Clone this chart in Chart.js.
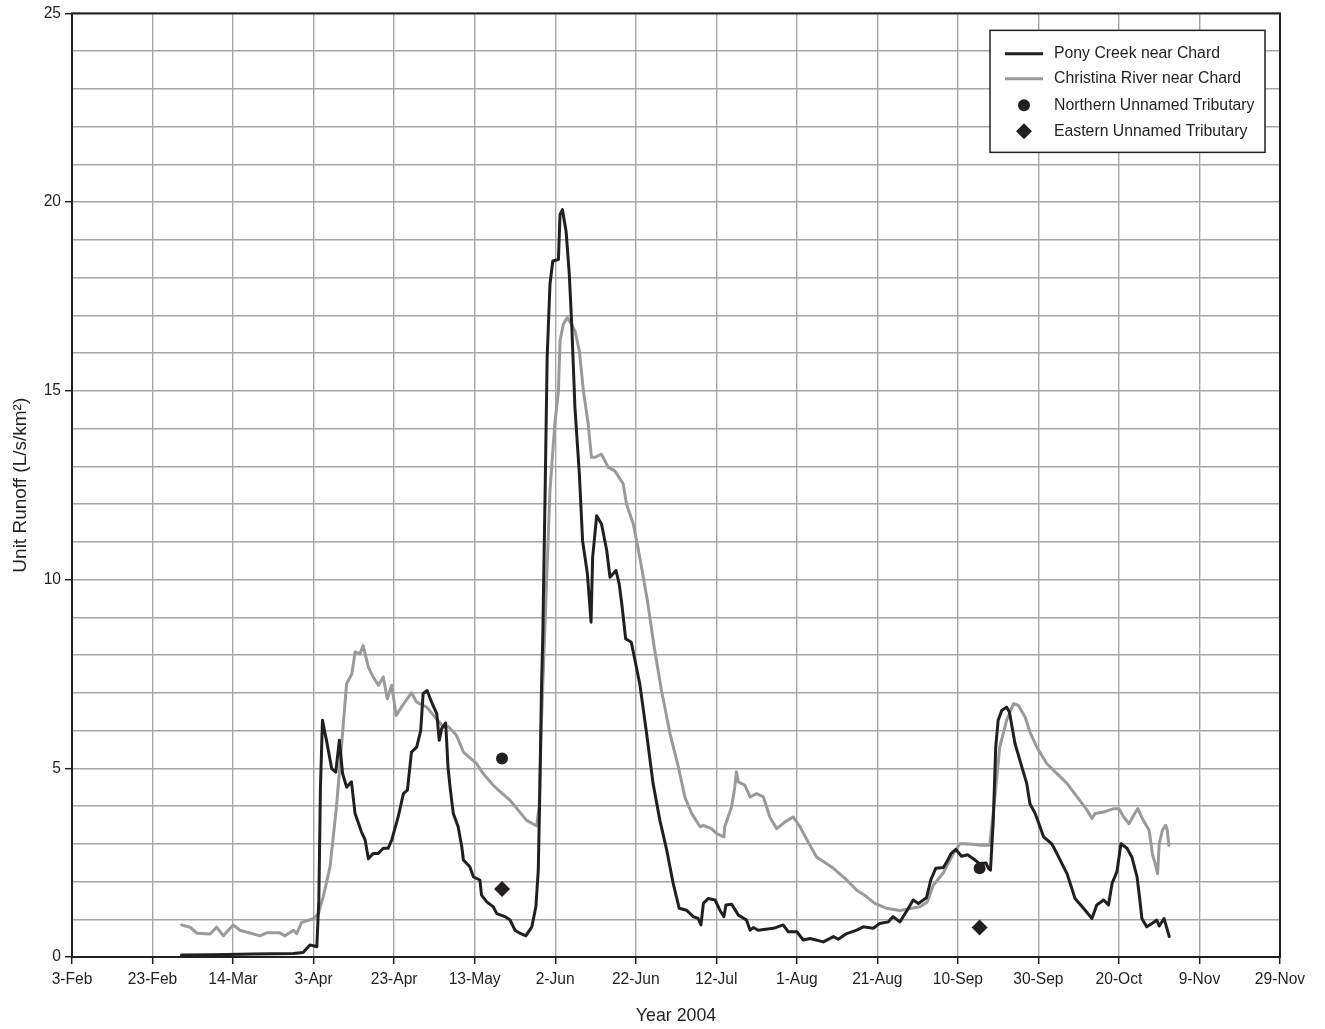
<!DOCTYPE html>
<html>
<head>
<meta charset="utf-8">
<title>Unit Runoff 2004</title>
<script src="https://cdn.jsdelivr.net/npm/chart.js@4/dist/chart.umd.min.js"></script>
<style>
  html, body { margin: 0; padding: 0; background: #ffffff; }
  #wrap { width: 1325px; height: 1029px; position: relative; }
</style>
</head>
<body>
<div id="wrap"><canvas id="runoff"></canvas></div>
<script>
// Days counted from 3 February 2004; unit runoff in L/s/km².
const seriesLabels = [
  'Pony Creek near Chard',
  'Christina River near Chard',
  'Northern Unnamed Tributary',
  'Eastern Unnamed Tributary'
];

const ponyDays = [
  27.2, 35, 45, 55, 57.4, 58.5, 59.1, 60.8, 61.3, 61.7, 62.2, 63.2, 64.5, 65.5, 66.4, 67.2,
  68.2, 69.4, 70.3, 71.9, 72.8, 73.6, 74.8, 76, 77.3, 78.5, 79.4, 81, 82.3, 83.3, 84.3, 85.6,
  86.6, 87.2, 88.2, 89.3, 90.6, 91.2, 91.8, 92.8, 93.4, 94.0, 94.7, 95.9, 96.8, 97.2, 98.8, 99.7,
  100.5, 101.3, 101.7, 103, 104.6, 105.5, 107.5, 108.8, 110, 111.2, 112.7, 114.2, 115.2, 115.8,
  116.2, 116.6, 116.9, 117.5, 118, 118.7, 119.4, 120.8, 121.2, 121.8, 122.7, 123.5, 124.1, 124.9,
  126, 126.8, 128, 128.9, 129.3, 130.3, 131.5, 132.8, 133.6, 135.1, 135.9, 136.6, 137.5, 138.9,
  141, 142.7, 144.3, 146, 147.7, 149.3, 150.8, 152.6, 154.3, 155.5, 156.2, 156.8, 158, 159.7,
  160.9, 161.9, 162.4, 163.8, 165.5, 167.5, 168.4, 169.2, 170.4, 174.2, 176.6, 177.9, 180, 181.6,
  183.3, 186.6, 189.1, 190.3, 192.4, 194.9, 196.5, 199, 200.6, 202.7, 203.9, 205.6, 207.3, 208.9,
  210.2, 212.2, 213.3, 214.5, 216.4, 217.4, 218.3, 219.5, 220.9, 222.4, 224, 225.3, 227, 227.6,
  228.1, 228.8, 229.4, 230, 230.9, 232.1, 232.8, 234.2, 235.9, 237.1, 237.9, 239.2, 240.4, 241.3,
  243.3, 244.6, 247.1, 249.1, 251.2, 253.3, 254.5, 256.2, 257.4, 258.3, 259.5, 260.5, 262, 263.2,
  264.5, 265.2, 265.7, 266.9, 268.2, 269.4, 270, 271.2, 272.5
];
const ponyRunoff = [
  0.05, 0.06, 0.08, 0.09, 0.12, 0.25, 0.32, 0.27, 1.5, 4.5, 6.27, 5.74, 4.99, 4.9, 5.74, 4.86,
  4.5, 4.64, 3.8, 3.31, 3.1, 2.6, 2.74, 2.74, 2.88, 2.88, 3.1, 3.71, 4.33, 4.42, 5.43, 5.56,
  6.0, 6.98, 7.06, 6.75, 6.44, 5.74, 6.05, 6.2, 5.0, 4.4, 3.8, 3.45, 2.92, 2.57, 2.39, 2.12,
  2.08, 2.04, 1.64, 1.46, 1.33, 1.15, 1.07, 0.98, 0.71, 0.63, 0.56, 0.8, 1.33, 2.3,
  4.5, 7.15, 8.39, 12.35, 15.88, 17.82, 18.44, 18.48, 19.67, 19.8, 19.23, 18.09, 16.76, 14.56,
  12.8, 11.03, 10.15, 8.87, 10.59, 11.69, 11.47, 10.77, 10.06, 10.24, 9.88, 9.3, 8.43, 8.34,
  7.24, 5.92, 4.6, 3.62, 2.83, 1.95, 1.29, 1.24, 1.07, 1.02, 0.85, 1.42, 1.55, 1.51,
  1.24, 1.07, 1.38, 1.4, 1.11, 0.98, 0.71, 0.78, 0.71, 0.76, 0.85, 0.67, 0.67, 0.45,
  0.49, 0.4, 0.54, 0.47, 0.62, 0.71, 0.8, 0.76, 0.89, 0.93, 1.07, 0.93, 1.22, 1.51,
  1.42, 1.57, 2.05, 2.35, 2.37, 2.55, 2.74, 2.85, 2.67, 2.71, 2.59, 2.48, 2.49, 2.35,
  2.3, 3.62, 5.56, 6.27, 6.53, 6.62, 6.49, 5.65, 5.03, 4.6, 4.06, 3.8, 3.45, 3.18,
  3.0, 2.74, 2.21, 1.55, 1.29, 1.02, 1.38, 1.51, 1.38, 1.95, 2.26, 3.0, 2.88, 2.65,
  2.12, 1.51, 1.02, 0.8, 0.89, 0.98, 0.82, 1.02, 0.54
];

const christinaDays = [
  27.2, 29.3, 31, 34.3, 35.9, 37.6, 40, 41.7, 46.7, 48.3, 51.6, 52.9, 55, 55.8, 57, 60,
  61.2, 62.4, 64.1, 65.7, 67.4, 68.2, 69.5, 70.3, 71.5, 72.3, 73.6, 74.8, 76.1, 77.3, 78.3, 79.4,
  80.5, 82.3, 84.3, 85.6, 88.1, 90.6, 92.2, 93.5, 95.5, 97.2, 100.5, 102.1, 104.6, 105.9, 108.8, 110.8,
  112.9, 115.4, 116, 116.6, 117.5, 118.7, 119.9, 120.8, 121.2, 122, 123, 124.9, 126, 127, 128.2, 129,
  129.9, 131.5, 133.2, 134.8, 136.9, 137.7, 139.4, 141, 142.9, 144.6, 146.4, 148.5, 150.6, 152.2, 153.9, 156,
  156.8, 158.8, 160.1, 161.9, 162.1, 163.8, 164.6, 165, 165.5, 167.1, 168.4, 170, 171.7, 173.3, 175, 177.1,
  179.1, 180.8, 182.8, 184.9, 189.1, 192.4, 194.9, 197.3, 199.4, 202.3, 205.6, 208.5, 210.6, 212.4, 213.9, 216.4,
  217.6, 218.9, 220.5, 221.4, 223.8, 225.5, 227.9, 229.2, 230.4, 232.1, 233.8, 235, 236.7, 237.9, 239.6, 242.1,
  244.6, 247.1, 249.6, 252.1, 253.3, 254.1, 256.2, 258.7, 260, 261.2, 262.5, 263.7, 264.7, 265.8, 267.5, 268.3,
  269.2, 269.6, 270, 270.8, 271.6, 272, 272.4
];
const christinaRunoff = [
  0.85, 0.79, 0.63, 0.61, 0.79, 0.56, 0.85, 0.71, 0.56, 0.64, 0.64, 0.56, 0.71, 0.62, 0.91, 1.02,
  1.15, 1.6, 2.4, 4.0, 6.2, 7.24, 7.5, 8.08, 8.03, 8.25, 7.68, 7.42, 7.2, 7.42, 6.84, 7.2,
  6.4, 6.7, 7.0, 6.75, 6.62, 6.3, 6.1, 6.1, 5.87, 5.43, 5.12, 4.86, 4.55, 4.42, 4.15, 3.89,
  3.62, 3.47, 3.98, 6.27, 8.9, 12.35, 14.12, 15.0, 16.32, 16.76, 16.94, 16.59, 16.06, 15.0, 14.12, 13.24,
  13.24, 13.32, 12.97, 12.88, 12.53, 12.0, 11.47, 10.59, 9.44, 8.2, 7.06, 5.92, 5.03, 4.24, 3.8, 3.45,
  3.49, 3.4, 3.27, 3.18, 3.45, 3.98, 4.5, 4.9, 4.64, 4.55, 4.24, 4.33, 4.24, 3.71, 3.4, 3.58,
  3.71, 3.45, 3.05, 2.65, 2.35, 2.04, 1.77, 1.6, 1.42, 1.29, 1.23, 1.29, 1.33, 1.46, 1.9, 2.23,
  2.48, 2.74, 3.0, 3.0, 2.99, 2.96, 2.96, 4.24, 5.56, 6.27, 6.71, 6.67, 6.36, 5.96, 5.56, 5.12,
  4.86, 4.6, 4.24, 3.89, 3.67, 3.8, 3.84, 3.93, 3.93, 3.71, 3.53, 3.76, 3.93, 3.67, 3.36, 2.74,
  2.39, 2.21, 3.0, 3.36, 3.49, 3.36, 2.96
];

// Spot measurements on the two unnamed tributaries (20 May and 16 Sep).
const northernDays = [106.8, 225.4];
const northernRunoff = [5.26, 2.35];
const easternDays = [106.8, 225.4];
const easternRunoff = [1.8, 0.78];

// Axis ticks: labelled every 20 days, 0–25 L/s/km² with a label every 5.
const xTickDays = [0, 20, 40, 60, 80, 100, 120, 140, 160, 180, 200, 220, 240, 260, 280, 300];
const xTickLabels = ['3-Feb', '23-Feb', '14-Mar', '3-Apr', '23-Apr', '13-May', '2-Jun', '22-Jun',
  '12-Jul', '1-Aug', '21-Aug', '10-Sep', '30-Sep', '20-Oct', '9-Nov', '29-Nov'];
const yLabelStep = 5;

const ink = '#231f20';
const riverGrey = '#9a9a9a';
const gridGrey = '#a6a6a6';
const fontFamily = '"Liberation Sans", Arial, Helvetica, sans-serif';

const toPoints = (xs, ys) => xs.map((x, i) => ({ x: x, y: ys[i] }));

// Black frame around the plotting area.
const frame = {
  id: 'frame',
  afterDatasetsDraw(chart) {
    const { ctx, chartArea: a } = chart;
    ctx.save();
    ctx.strokeStyle = ink;
    ctx.lineWidth = 2;
    ctx.strokeRect(a.left, a.top, a.right - a.left, a.bottom - a.top);
    ctx.restore();
  }
};

// Boxed key in the upper right corner, built from the datasets.
const boxedKey = {
  id: 'boxedKey',
  afterDraw(chart) {
    const { ctx, chartArea: a } = chart;
    const w = 275, h = 122;
    const x0 = a.right - 15 - w, y0 = a.top + 17;
    ctx.save();
    ctx.fillStyle = '#ffffff';
    ctx.fillRect(x0, y0, w, h);
    ctx.strokeStyle = ink;
    ctx.lineWidth = 1.5;
    ctx.strokeRect(x0, y0, w, h);
    ctx.font = '15.8px ' + fontFamily;
    ctx.textBaseline = 'middle';
    const rowY = [23.5, 48.5, 75, 101];
    chart.data.datasets.forEach((ds, i) => {
      const y = y0 + rowY[i];
      const cx = x0 + 34;
      if (ds.showLine === false) {
        ctx.fillStyle = ds.backgroundColor;
        ctx.beginPath();
        if (ds.pointStyle === 'rectRot') {
          const r = 8;
          ctx.moveTo(cx, y - r); ctx.lineTo(cx + r, y); ctx.lineTo(cx, y + r); ctx.lineTo(cx - r, y);
          ctx.closePath();
        } else {
          ctx.arc(cx, y, 6, 0, Math.PI * 2);
        }
        ctx.fill();
      } else {
        ctx.strokeStyle = ds.borderColor;
        ctx.lineWidth = ds.borderWidth;
        ctx.beginPath();
        ctx.moveTo(x0 + 15, y);
        ctx.lineTo(x0 + 53, y);
        ctx.stroke();
      }
      ctx.fillStyle = ink;
      ctx.fillText(ds.label, x0 + 64, y);
    });
    ctx.restore();
  }
};

new Chart(document.getElementById('runoff'), {
  type: 'line',
  data: {
    datasets: [
      {
        label: seriesLabels[0],
        data: toPoints(ponyDays, ponyRunoff),
        borderColor: ink,
        borderWidth: 3,
        borderJoinStyle: 'round',
        borderCapStyle: 'round',
        pointRadius: 0,
        tension: 0,
        order: 1
      },
      {
        label: seriesLabels[1],
        data: toPoints(christinaDays, christinaRunoff),
        borderColor: riverGrey,
        borderWidth: 3,
        borderJoinStyle: 'round',
        borderCapStyle: 'round',
        pointRadius: 0,
        tension: 0,
        order: 2
      },
      {
        label: seriesLabels[2],
        data: toPoints(northernDays, northernRunoff),
        showLine: false,
        pointStyle: 'circle',
        pointRadius: 6,
        backgroundColor: ink,
        borderColor: ink,
        borderWidth: 0,
        order: 0
      },
      {
        label: seriesLabels[3],
        data: toPoints(easternDays, easternRunoff),
        showLine: false,
        pointStyle: 'rectRot',
        pointRadius: 8,
        backgroundColor: ink,
        borderColor: ink,
        borderWidth: 0,
        order: 0
      }
    ]
  },
  options: {
    responsive: true,
    maintainAspectRatio: false,
    animation: false,
    layout: { padding: { top: 12, right: 45, left: 0, bottom: 0 } },
    plugins: {
      legend: { display: false },
      tooltip: { enabled: false }
    },
    scales: {
      x: {
        type: 'linear',
        min: xTickDays[0],
        max: xTickDays[xTickDays.length - 1],
        afterBuildTicks(scale) {
          scale.ticks = xTickDays.map(v => ({ value: v }));
        },
        afterFit(scale) { scale.height = 72; },
        border: { display: false },
        grid: {
          color: gridGrey,
          lineWidth: 1.4,
          tickColor: ink,
          tickLength: 7,
          tickWidth: 1.5
        },
        ticks: {
          autoSkip: false,
          maxRotation: 0,
          padding: 6,
          color: ink,
          font: { family: fontFamily, size: 15.6 },
          callback: (v) => xTickLabels[xTickDays.indexOf(v)]
        },
        title: {
          display: true,
          text: 'Year 2004',
          color: ink,
          font: { family: fontFamily, size: 17.8 },
          padding: { top: 0, bottom: 2 }
        }
      },
      y: {
        min: 0,
        max: 25,
        afterFit(scale) { scale.width = 72; },
        border: { display: false },
        grid: {
          color: gridGrey,
          lineWidth: 1.4,
          tickColor: (c) => (c.tick && c.tick.value % yLabelStep === 0) ? ink : 'rgba(0,0,0,0)',
          tickLength: 7,
          tickWidth: 1.5
        },
        ticks: {
          stepSize: 1,
          padding: 4,
          color: ink,
          font: { family: fontFamily, size: 15.6 },
          callback: (v) => (v % yLabelStep === 0 ? String(v) : '')
        },
        title: {
          display: true,
          text: 'Unit Runoff (L/s/km²)',
          color: ink,
          font: { family: fontFamily, size: 19 },
          padding: { top: 9, bottom: 0 }
        }
      }
    }
  },
  plugins: [frame, boxedKey]
});
</script>
</body>
</html>
